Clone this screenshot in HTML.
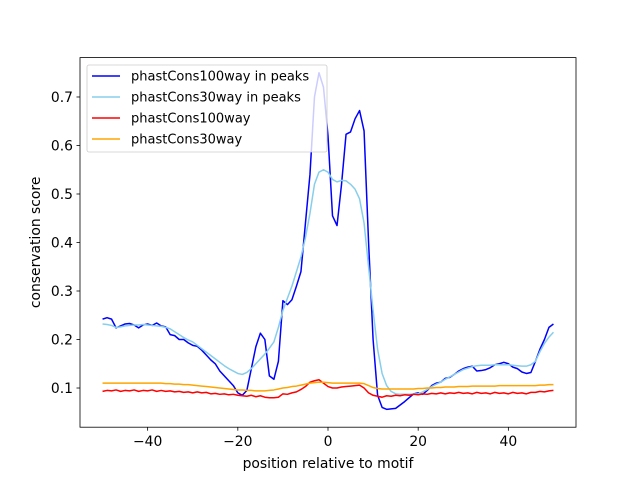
<!DOCTYPE html>
<html><head><meta charset="utf-8"><style>
body{margin:0;background:#fff}
svg text{font-family:"DejaVu Sans","Liberation Sans",sans-serif;fill:#000}
</style></head><body>
<svg id="chart" width="640" height="480" xmlns="http://www.w3.org/2000/svg">
<rect width="640" height="480" fill="#fff"/>
<g id="series"></g>
<g id="axes"></g>
<g id="legend"></g>
</svg>
<script>
const positions = Array.from({length:101},(_,i)=>i-50);
const p100peaks=[0.242,0.245,0.242,0.224,0.228,0.232,0.233,0.230,0.224,0.230,0.232,0.229,0.234,0.228,0.226,0.210,0.208,0.200,0.200,0.193,0.188,0.186,0.178,0.168,0.158,0.150,0.135,0.125,0.115,0.105,0.090,0.085,0.095,0.140,0.185,0.213,0.200,0.125,0.118,0.155,0.280,0.272,0.282,0.310,0.340,0.440,0.540,0.700,0.750,0.720,0.620,0.455,0.435,0.520,0.623,0.628,0.655,0.672,0.630,0.400,0.200,0.085,0.060,0.056,0.057,0.058,0.065,0.072,0.080,0.088,0.090,0.087,0.095,0.105,0.110,0.112,0.120,0.122,0.128,0.135,0.140,0.143,0.145,0.135,0.136,0.138,0.142,0.148,0.150,0.153,0.150,0.143,0.140,0.133,0.130,0.132,0.155,0.180,0.200,0.225,0.232];
const p30peaks=[0.232,0.231,0.229,0.225,0.226,0.228,0.229,0.230,0.230,0.231,0.230,0.229,0.228,0.227,0.225,0.222,0.216,0.210,0.204,0.199,0.195,0.188,0.181,0.174,0.167,0.160,0.153,0.146,0.140,0.135,0.130,0.128,0.132,0.140,0.150,0.160,0.170,0.182,0.195,0.225,0.260,0.285,0.310,0.340,0.370,0.410,0.460,0.520,0.545,0.550,0.545,0.530,0.525,0.528,0.527,0.520,0.510,0.490,0.440,0.350,0.260,0.180,0.130,0.105,0.093,0.088,0.087,0.087,0.087,0.088,0.088,0.092,0.097,0.103,0.108,0.112,0.118,0.123,0.128,0.133,0.138,0.141,0.144,0.146,0.147,0.147,0.147,0.148,0.148,0.148,0.148,0.147,0.146,0.145,0.145,0.148,0.155,0.175,0.192,0.205,0.215];
const p100=[0.093,0.095,0.094,0.096,0.093,0.095,0.094,0.096,0.093,0.095,0.094,0.096,0.093,0.095,0.093,0.094,0.092,0.093,0.091,0.092,0.090,0.092,0.090,0.091,0.088,0.089,0.087,0.088,0.086,0.087,0.085,0.084,0.083,0.085,0.082,0.084,0.081,0.080,0.080,0.081,0.088,0.087,0.090,0.092,0.097,0.103,0.112,0.115,0.117,0.110,0.103,0.100,0.100,0.102,0.103,0.104,0.105,0.106,0.100,0.090,0.085,0.083,0.081,0.084,0.083,0.085,0.084,0.086,0.085,0.087,0.086,0.088,0.087,0.089,0.088,0.090,0.088,0.090,0.089,0.091,0.089,0.090,0.088,0.091,0.089,0.090,0.088,0.091,0.089,0.090,0.088,0.091,0.089,0.090,0.088,0.091,0.091,0.093,0.092,0.094,0.095];
const p30=[0.110,0.110,0.110,0.110,0.110,0.110,0.110,0.110,0.110,0.110,0.110,0.110,0.110,0.110,0.109,0.109,0.108,0.108,0.107,0.107,0.106,0.105,0.104,0.103,0.102,0.101,0.100,0.099,0.098,0.097,0.096,0.096,0.095,0.095,0.094,0.094,0.094,0.095,0.096,0.098,0.100,0.101,0.103,0.104,0.106,0.108,0.110,0.111,0.112,0.112,0.111,0.110,0.110,0.110,0.110,0.110,0.110,0.110,0.109,0.105,0.101,0.099,0.098,0.098,0.098,0.098,0.098,0.098,0.098,0.098,0.099,0.099,0.100,0.100,0.101,0.101,0.102,0.102,0.102,0.103,0.103,0.103,0.104,0.104,0.104,0.104,0.104,0.104,0.105,0.105,0.105,0.105,0.105,0.105,0.105,0.105,0.105,0.106,0.106,0.107,0.107];
const xTicks=[-40,-20,0,20,40];
const yTicks=[0.1,0.2,0.3,0.4,0.5,0.6,0.7];
const seriesNames=["phastCons100way in peaks","phastCons30way in peaks","phastCons100way","phastCons30way"];
const seriesColors=["#0000ff","#87ceeb","#ff0000","#ffa500"];
const L=80,R=576,T=57.6,B=427.2;
const X0=-55,X1=55,Y0=0.0192,Y1=0.7812;
const sx=v=>L+(v-X0)/(X1-X0)*(R-L);
const sy=v=>B-(v-Y0)/(Y1-Y0)*(B-T);
const NS="http://www.w3.org/2000/svg";
function mk(tag,attrs,parent){const e=document.createElementNS(NS,tag);for(const k in attrs)e.setAttribute(k,attrs[k]);parent.appendChild(e);return e;}
const sg=document.getElementById('series');
[p100peaks,p30peaks,p100,p30].forEach((arr,si)=>{
  const d=arr.map((v,i)=>(i?'L':'M')+sx(positions[i]).toFixed(2)+','+sy(v).toFixed(2)).join('');
  const p=mk('path',{d:d,fill:'none',stroke:seriesColors[si],'stroke-width':1.5,'stroke-linejoin':'round'},sg);
  
  
});
const ag=document.getElementById('axes');
const frame=mk('rect',{x:L,y:T,width:R-L,height:B-T,fill:'none',stroke:'#000','stroke-width':0.8},ag);


xTicks.forEach(t=>{
  const x=sx(t);
  const tk=mk('line',{x1:x,x2:x,y1:B,y2:B+3.5,stroke:'#000','stroke-width':0.8},ag);
  
  
  const tx=mk('text',{x:x,y:B+19,'text-anchor':'middle','font-size':'13.9'},ag);
  tx.textContent=(t<0?'\u2212'+(-t):t);
  
  
});
yTicks.forEach(t=>{
  const y=sy(t);
  const tk=mk('line',{x1:L-3.5,x2:L,y1:y,y2:y,stroke:'#000','stroke-width':0.8},ag);
  
  
  const tx=mk('text',{x:L-7,y:y+5,'text-anchor':'end','font-size':'13.9'},ag);
  tx.textContent=t.toFixed(1);
  
  
});
const xt=mk('text',{x:(L+R)/2,y:468,'text-anchor':'middle','font-size':'13.9'},ag);
xt.textContent='position relative to motif';


const yt=mk('text',{x:0,y:0,'text-anchor':'middle','font-size':'13.9',transform:'translate(40,'+((T+B)/2)+') rotate(-90)'},ag);
yt.textContent='conservation score';


const lg=document.getElementById('legend');
const box=mk('rect',{x:87,y:65,width:240,height:87,rx:2,fill:'rgba(255,255,255,0.8)',stroke:'#ccc','stroke-width':0.8},lg);


seriesNames.forEach((n,i)=>{
  const y=76+i*21;
  const ln=mk('line',{x1:92,x2:120,y1:y,y2:y,stroke:seriesColors[i],'stroke-width':1.5},lg);
  
  
  const tx=mk('text',{x:131,y:y+4.5,'font-size':'13'},lg);
  tx.textContent=n;
  
  
});
</script>
</body></html>
